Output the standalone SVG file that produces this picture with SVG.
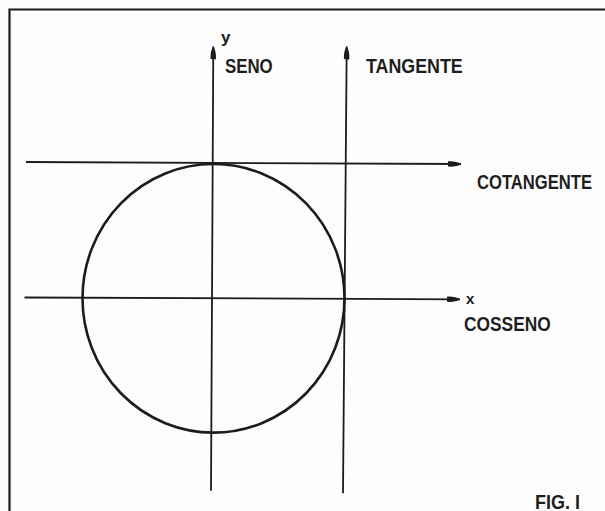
<svg xmlns="http://www.w3.org/2000/svg" width="605" height="511" viewBox="0 0 605 511">
  <defs>
    <style>
      .ln { stroke: #1c1c1c; stroke-width: 1.8; fill: none; }
      .lbl { font-family: "Liberation Sans", Arial, sans-serif; font-size: 20px; font-weight: bold; fill: #1e1e1e; }
      .ax { font-family: "Liberation Sans", Arial, sans-serif; font-weight: bold; fill: #1a1a1a; }
    </style>
    <marker id="arr" markerUnits="userSpaceOnUse" markerWidth="16" markerHeight="8" viewBox="0 -4 16 8" refX="13" refY="0" orient="auto">
      <path d="M0,-2.6 C4,-3 10,-2.4 13,0 C10,2.4 4,3 0,2.6 Z" fill="#1c1c1c"/>
    </marker>
  </defs>
  <rect x="0" y="0" width="605" height="511" fill="#fdfdfd"/>
  <g id="frame">
    <path d="M9.5,511 V9.5 H605" stroke="#1c1c1c" stroke-width="2.2" fill="none"/>
  </g>
  <g id="circle">
    <ellipse cx="213.5" cy="298.3" rx="131" ry="134.3" stroke="#1c1c1c" stroke-width="2.6" fill="none"/>
  </g>
  <g id="connectors">
    <line class="ln" x1="26" y1="162" x2="461" y2="164" marker-end="url(#arr)"/>
    <line class="ln" x1="24.5" y1="297.5" x2="460" y2="299.3" marker-end="url(#arr)"/>
    <line class="ln" x1="211" y1="490.7" x2="213.3" y2="46.5" marker-end="url(#arr)"/>
    <line class="ln" x1="343" y1="493.3" x2="346.7" y2="46.5" marker-end="url(#arr)"/>
  </g>
  <g id="label-y"><text class="ax" x="221" y="43" font-size="17">y</text></g>
  <g id="label-seno"><text class="lbl" x="225" y="73.3" textLength="47.7" lengthAdjust="spacingAndGlyphs">SENO</text></g>
  <g id="label-tangente"><text class="lbl" x="366" y="73.3" textLength="96.7" lengthAdjust="spacingAndGlyphs">TANGENTE</text></g>
  <g id="label-cotangente" transform="translate(477 189.3) scale(0.832 1)"><text class="lbl" x="0" y="0">COTANGENTE</text></g>
  <g id="label-x"><text class="ax" x="466" y="303.5" font-size="15">x</text></g>
  <g id="label-cosseno"><text class="lbl" x="464" y="331" textLength="86.7" lengthAdjust="spacingAndGlyphs">COSSENO</text></g>
  <g id="label-fig"><text class="lbl" x="535" y="508.5" textLength="45" lengthAdjust="spacingAndGlyphs">FIG. I</text></g>
</svg>
